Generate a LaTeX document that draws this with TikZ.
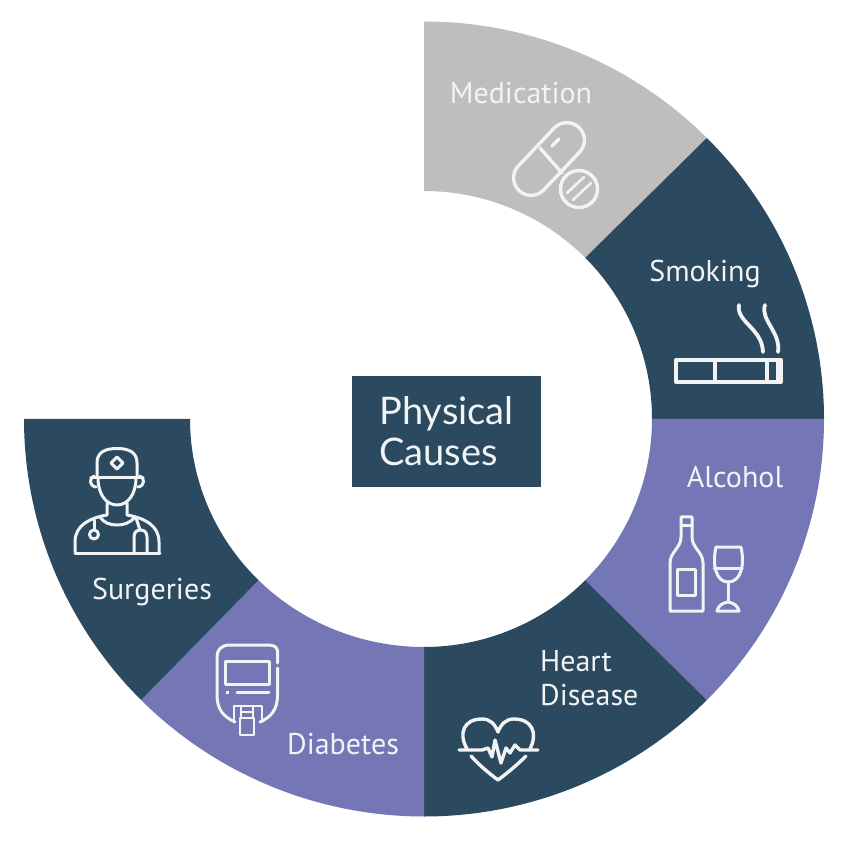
\documentclass[tikz,border=0pt]{standalone}
\usepackage{fontspec}
\setmainfont{PT Sans}
\newfontfamily\titlefont{Lato}
\definecolor{deep}{HTML}{2C4A5F}
\definecolor{violet}{HTML}{7476B6}
\definecolor{silver}{HTML}{BEBEBE}
\definecolor{paper}{HTML}{F2F3F5}
\usetikzlibrary{calc}
\tikzset{
  seg/.style={draw=none,fill=#1},
  lab/.style={text=paper,inner sep=0pt,font=\fontsize{30}{34}\selectfont},
  ico/.style={draw=paper,line width=3.4pt,line cap=round,line join=round},
  fine ico/.style={draw=paper,line width=3pt,line cap=round,line join=round},
  thin ico/.style={draw=paper,line width=2.6pt,line cap=round,line join=round}
}
% start angle, end angle, colour, inner x radius
\newcommand{\segment}[4]{%
  \fill[seg=#3] (424,419) ++(#1:400pt and 397.5pt) arc[start angle=#1,end angle=#2,x radius=400pt,y radius=397.5pt]
    -- ($(424,419)+(#2:#4pt and 228pt)$) arc[start angle=#2,end angle=#1,x radius=#4pt,y radius=228pt] -- cycle;}
\begin{document}
\begin{tikzpicture}[x=1pt,y=1pt]
\useasboundingbox (0,0) rectangle (845,841);
\begin{scope}[shift={(0,841)},yscale=-1]
\segment{-90}{-45}{silver}{228}
\segment{-45}{0}{deep}{228}
\segment{0}{45}{violet}{228}
\segment{45}{90}{deep}{228}
\segment{90}{135}{violet}{234}
\segment{135}{180}{deep}{234}

\node[fill=deep,minimum width=189pt,minimum height=111pt,inner sep=0pt,text=paper,
      align=left,font=\titlefont\fontsize{38}{41}\selectfont] (centre) at (446.5,431.5) {Physical\\Causes};

\node[lab] (medication) at (521,93) {Medication};
\node[lab] (smoking) at (705,274) {Smoking};
\node[lab] (alcohol) at (735,477) {Alcohol};
\node[lab,anchor=west,align=left] (heart) at (540,678) {Heart\\Disease};
\node[lab] (surgeries) at (152,592) {Surgeries};
\node[lab] (diabetes) at (343,744) {Diabetes};

% pill
\draw[ico,rotate around={-46.5:(549,159)}] (549,159) ++(-26,-17.5) -- ++(52,0) arc[start angle=-90,end angle=90,radius=17.5pt] -- ++(-52,0) arc[start angle=90,end angle=270,radius=17.5pt] -- cycle;
\draw[ico] (540,148) -- (562,173);
\draw[ico] (552,146) -- (559,139);
\draw[ico,fill=silver] (579,189) circle[radius=18.5pt];
\draw[thin ico] (567,193) -- (584,177);
\draw[thin ico] (573,200) -- (591,183);

% cigarette
\draw[ico,line width=4pt] (676,360) rectangle (781,382);
\draw[ico,line width=4pt] (715,360) -- (715,382);
\fill[paper] (765,360) rectangle (769,382);
\fill[paper] (776,360) rectangle (781,382);
\draw[ico,line width=3.8pt] (739,305) .. controls (736,322) and (762,328) .. (763,352);
\draw[ico,line width=3.8pt] (765,305) .. controls (760,320) and (781,332) .. (778,352);

% bottle and glass
\draw[fine ico] (681,537) -- (681,517) -- (692,517) -- (692,537)
  .. controls (692,548) and (703,552) .. (703,563) -- (703,611) -- (670,611) -- (670,563)
  .. controls (670,552) and (681,548) .. (681,537) -- cycle;
\draw[fine ico] (681,526) -- (692,526);
\draw[fine ico] (677,569) rectangle (695,595);
\draw[fine ico] (716,547) -- (741,547) .. controls (745,565) and (741,582) .. (728,582)
  .. controls (716,582) and (712,565) .. (716,547) -- cycle;
\draw[fine ico] (714,568) -- (742,568);
\draw[fine ico] (728,582) -- (728,602);
\draw[fine ico] (728,602) .. controls (722,603) and (718,606) .. (717,611) -- (739,611) .. controls (738,606) and (734,603) .. (728,602);

% heart
\draw[ico] (467,749) .. controls (458,733) and (464,719) .. (482,719) .. controls (490,719) and (495,724) .. (498,732)
  .. controls (501,724) and (506,719) .. (514,719) .. controls (532,719) and (538,733) .. (530,749);
\draw[ico] (471,756) .. controls (480,766) and (490,774) .. (498,780) .. controls (506,774) and (516,766) .. (526,756);
\draw[ico] (459,750) -- (482,750) -- (488,748) -- (492,757) -- (495,740) -- (501,763) -- (506,748) -- (510,753) -- (515,745) -- (520,750) -- (538,750);

% meter
\draw[fine ico] (277.5,663) -- (277.5,651.5) .. controls (277.5,647) and (274,645) .. (268,645) -- (230,645)
  .. controls (221,645) and (217,650) .. (217,657) -- (217,695) .. controls (217,710) and (224,717) .. (235,722);
\draw[fine ico] (277.5,668) -- (277.5,695) .. controls (277.5,710) and (271,717) .. (260,722);
\draw[fine ico] (225,661) rectangle (269,684);
\draw[fine ico,line cap=butt,dash pattern=on 3pt off 3pt] (226,692) -- (232,692);
\draw[fine ico] (237,692) -- (269,692);
\draw[thin ico] (234,722) -- (234,706) -- (262,706) -- (262,722);
\draw[thin ico] (241,706) -- (241,718);
\draw[thin ico] (253,706) -- (253,718);
\draw[thin ico] (241,712) -- (253,712);
\draw[thin ico] (240,718) rectangle (254,735);

% doctor
\draw[fine ico] (97,477) -- (97,463) .. controls (97,453) and (104,448.5) .. (117,448.5)
  .. controls (130,448.5) and (137,453) .. (137,463) -- (137,477);
\draw[fine ico] (91,477.5) -- (143,477.5);
\draw[fine ico] (117,457) -- (123,463) -- (117,469) -- (111,463) -- cycle;
\draw[fine ico] (98,478) .. controls (98,494) and (106,505) .. (117,505) .. controls (128,505) and (136,494) .. (136,478);
\draw[fine ico] (94,476) .. controls (89,478) and (89,486) .. (96,487);
\draw[fine ico] (140,476) .. controls (145,478) and (145,486) .. (138,487);
\draw[fine ico] (107,503) -- (107,515) .. controls (90,518) and (75,525) .. (75,542) -- (75,552);
\draw[fine ico] (127,503) -- (127,515) .. controls (144,518) and (159,525) .. (159,542) -- (159,552);
\draw[fine ico] (75,553) -- (160,553);
\draw[fine ico] (100,517) .. controls (104,523) and (110,525) .. (117,525) .. controls (124,525) and (130,523) .. (135,517);
\draw[fine ico] (94,520) -- (94,529);
\draw[fine ico] (94,534.5) circle[radius=4.5pt];
\draw[fine ico] (136,518) -- (140,530);
\draw[fine ico] (134,552) -- (134,537) .. controls (134,532) and (137,530) .. (140.5,530) .. controls (144,530) and (147,532) .. (147,537) -- (147,552);
\end{scope}
\end{tikzpicture}
\end{document}
